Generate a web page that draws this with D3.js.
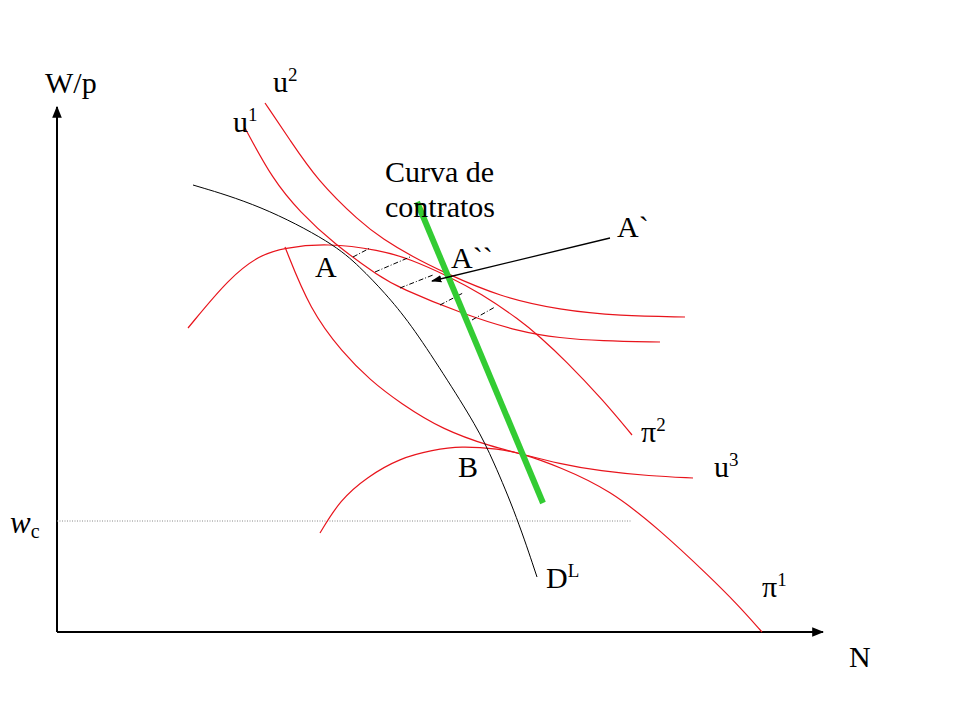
<!DOCTYPE html>
<html>
<head>
<meta charset="utf-8">
<script src="https://cdn.jsdelivr.net/npm/d3@7"></script>
<style>
  body { margin: 0; background: #fff; }
  text { font-family: "Liberation Serif", "Times New Roman", serif; fill: #000; }
</style>
</head>
<body>
<script>
var demandLabour = [[136,447],[203,427],[276,389],[303,365],[328,339],[353,309],[386,259],[420,205],[436,172],[460,115],[480,55]]
var u1 = [[188,504],[216,452],[243,420],[276,389],[323,355],[343,344],[403,319],[463,300],[503,294],[543,291],[603,290]]
var u2 = [[208,529],[233,492],[260,452],[303,410],[326,393],[356,375],[386,360],[443,335],[503,322],[563,316],[628,315]]
var u3 = [[228,385],[253,322],[286,279],[313,252],[343,229],[386,202],[436,185],[461,179],[503,168],[543,161],[593,156],[636,154]]
var pi2 = [[131,304],[173,355],[203,377],[226,384],[270,389],[323,382],[353,373],[393,355],[423,339],[463,312],[483,295],[508,272],[546,232],[575,197]]
var pi1 = [[263,99],[283,132],[310,155],[343,174],[376,182],[403,186],[443,183],[463,179],[503,165],[553,142],[603,102],[653,55],[680,28],[705,0]]
var contractCurve = [[360,430],[486,129]]
var wc = 111
var wcEnd = 575
var arrowFromTo = [[553,394],[375,351]]
var dashes = [
  [[296,375],[313,384]],
  [[318,360],[353,375]],
  [[343,344],[376,357]],
  [[383,327],[406,339]],
  [[415,312],[438,325]]
]

var labels = [
  {t: "W/p", n: -12, w: 539},
  {t: "u", sup: "2", n: 216, w: 540},
  {t: "u", sup: "1", n: 176, w: 500},
  {t: "Curva de", n: 328, w: 450},
  {t: "contratos", n: 328, w: 415},
  {t: "A`", n: 560, w: 395},
  {t: "A``", n: 394, w: 364},
  {t: "A", n: 258, w: 355},
  {t: "\u03c0", sup: "2", n: 584, w: 190},
  {t: "B", n: 401, w: 155},
  {t: "u", sup: "3", n: 657, w: 155},
  {t: "D", sup: "L", n: 489, w: 44},
  {t: "\u03c0", sup: "1", n: 705, w: 35},
  {t: "N", n: 792, w: -35}
]

var width = 960, height = 720

var svg = d3.select("body").append("svg")
    .attr("width", width)
    .attr("height", height)

var x = d3.scaleLinear().domain([0, 766]).range([57, 823])
var y = d3.scaleLinear().domain([0, 525]).range([632, 107])

var defs = svg.append("defs")
defs.append("marker").attr("id", "axisHead")
    .attr("viewBox", "0 0 10 10").attr("refX", 9).attr("refY", 5)
    .attr("markerWidth", 6).attr("markerHeight", 6).attr("orient", "auto")
  .append("path").attr("d", "M0,1L10,5L0,9Z").attr("fill", "#000")
defs.append("marker").attr("id", "smallHead")
    .attr("viewBox", "0 0 10 10").attr("refX", 9).attr("refY", 5)
    .attr("markerWidth", 8).attr("markerHeight", 8).attr("orient", "auto")
  .append("path").attr("d", "M0,1.5L10,5L0,8.5Z").attr("fill", "#000")

// axes
svg.append("line")
    .attr("x1", x(0)).attr("y1", y(0)).attr("x2", x(0)).attr("y2", y(525))
    .attr("stroke", "#000").attr("stroke-width", 2)
    .attr("marker-end", "url(#axisHead)")
svg.append("line")
    .attr("x1", x(0)).attr("y1", y(0)).attr("x2", x(766)).attr("y2", y(0))
    .attr("stroke", "#000").attr("stroke-width", 2)
    .attr("marker-end", "url(#axisHead)")

// w_c level
svg.append("line")
    .attr("x1", x(0)).attr("y1", y(wc)).attr("x2", x(wcEnd)).attr("y2", y(wc))
    .attr("stroke", "#888").attr("stroke-width", 1)
    .attr("stroke-dasharray", "1,1.5")

var line = d3.line()
    .x(function(d){ return x(d[0]) })
    .y(function(d){ return y(d[1]) })
    .curve(d3.curveBasis)

var redCurves = [u1, u2, u3, pi2, pi1]
svg.selectAll(".red")
    .data(redCurves)
    .enter().append("path")
    .attr("class", "red")
    .attr("d", line)
    .attr("fill", "none")
    .attr("stroke", "#e8141c")
    .attr("stroke-width", 1.2)

svg.append("path")
    .attr("d", line(demandLabour))
    .attr("fill", "none")
    .attr("stroke", "#000")
    .attr("stroke-width", 1)

svg.selectAll(".dash")
    .data(dashes)
    .enter().append("line")
    .attr("class", "dash")
    .attr("x1", function(d){ return x(d[0][0]) })
    .attr("y1", function(d){ return y(d[0][1]) })
    .attr("x2", function(d){ return x(d[1][0]) })
    .attr("y2", function(d){ return y(d[1][1]) })
    .attr("stroke", "#000")
    .attr("stroke-width", 1)
    .attr("stroke-dasharray", "5,2,1,2")

svg.append("line")
    .attr("x1", x(contractCurve[0][0])).attr("y1", y(contractCurve[0][1]))
    .attr("x2", x(contractCurve[1][0])).attr("y2", y(contractCurve[1][1]))
    .attr("stroke", "#33cc33").attr("stroke-width", 6)

svg.append("line")
    .attr("x1", x(arrowFromTo[0][0])).attr("y1", y(arrowFromTo[0][1]))
    .attr("x2", x(arrowFromTo[1][0])).attr("y2", y(arrowFromTo[1][1]))
    .attr("stroke", "#000").attr("stroke-width", 1.3)
    .attr("marker-end", "url(#smallHead)")

// labels
var lab = svg.selectAll(".lab")
    .data(labels)
    .enter().append("text")
    .attr("class", "lab")
    .attr("x", function(d){ return x(d.n) })
    .attr("y", function(d){ return y(d.w) })
    .style("font-size", "30px")

lab.append("tspan").text(function(d){ return d.t })
lab.filter(function(d){ return d.sup })
  .append("tspan")
    .attr("dy", -11)
    .style("font-size", "19px")
    .text(function(d){ return d.sup })

var wcLab = svg.append("text")
    .attr("x", x(-47)).attr("y", y(99))
    .style("font-size", "31px")
wcLab.append("tspan").style("font-style", "italic").text("w")
wcLab.append("tspan").attr("dy", 5).style("font-size", "20px").text("c")
</script>
</body>
</html>
